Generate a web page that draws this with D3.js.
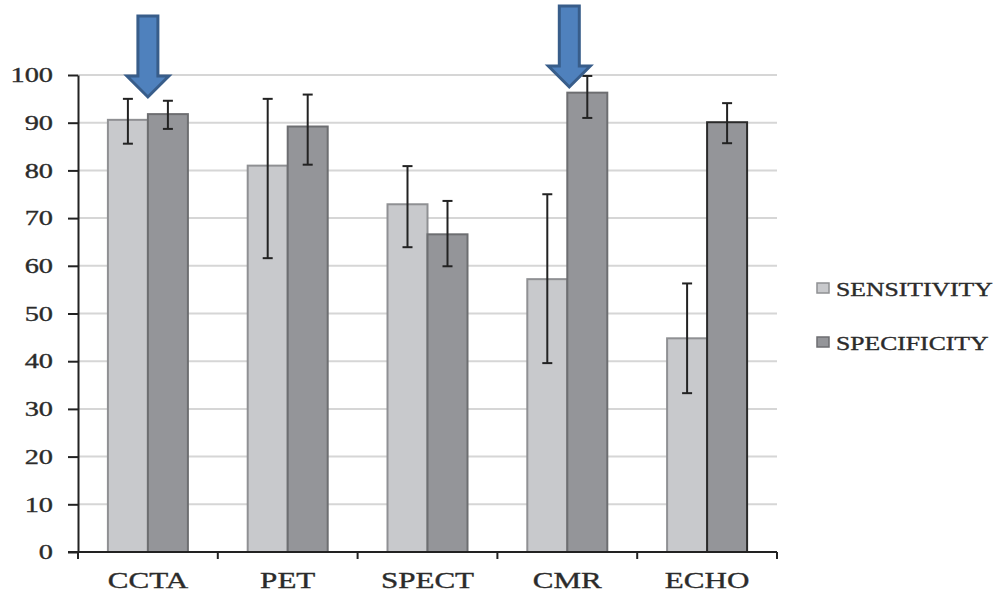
<!DOCTYPE html>
<html>
<head>
<meta charset="utf-8">
<script src="https://cdn.jsdelivr.net/npm/d3@7"></script>
<style>
body { margin: 0; background: #fff; }
text { font-family: "Liberation Serif", "DejaVu Serif", serif; fill: #2b2b2b; stroke: #2b2b2b; stroke-width: 0.35px; }
</style>
</head>
<body>
<svg width="997" height="594"></svg>
<script>
var categories = ["CCTA", "PET", "SPECT", "CMR", "ECHO"];
var seriesNames = ["SENSITIVITY", "SPECIFICITY"];
var sensitivity = [90.6, 81.0, 72.9, 57.2, 44.8];
var sensLow = [85.6, 61.6, 63.9, 39.6, 33.3];
var sensHigh = [95.0, 95.0, 80.9, 75.0, 56.3];
var specificity = [91.8, 89.2, 66.6, 96.3, 90.1];
var specLow = [88.7, 81.2, 59.9, 91.0, 85.7];
var specHigh = [94.6, 95.9, 73.6, 99.8, 94.1];
var yTicks = [0, 10, 20, 30, 40, 50, 60, 70, 80, 90, 100];
var arrowCats = ["CCTA", "CMR"];

var fills = ["#c8c9cc", "#949599"];
var strokes = ["#8f9093", "#6d6e71"];
var stretch = 1.35;

var svg = d3.select("svg");
var plotLeft = 78, plotRight = 777, plotTop = 75, plotBottom = 552;

var xScale = d3.scaleBand().domain(categories).range([plotLeft, plotRight]);
var inner = d3.scaleBand().domain(seriesNames).range([0, 80]);
var yScale = d3.scaleLinear().domain([0, 100]).range([plotBottom, plotTop]);

var data = categories.map(function(c, i) {
  return [
    {cat: c, s: 0, val: sensitivity[i], lo: sensLow[i], hi: sensHigh[i]},
    {cat: c, s: 1, val: specificity[i], lo: specLow[i], hi: specHigh[i]}
  ];
});

// gridlines
svg.append("g")
  .selectAll("line")
  .data(yTicks.slice(1))
  .enter()
  .append("line")
  .attr("x1", plotLeft)
  .attr("x2", plotRight)
  .attr("y1", d => yScale(d))
  .attr("y2", d => yScale(d))
  .style("stroke", "#d6d6d6")
  .style("stroke-width", 2);

// bars
var groups = svg.append("g")
  .selectAll("g")
  .data(data)
  .enter()
  .append("g")
  .attr("transform", (d) => "translate(" + (xScale(d[0].cat) + (xScale.bandwidth() - 80) / 2) + ",0)");

groups.selectAll("rect")
  .data(d => d)
  .enter()
  .append("rect")
  .attr("x", d => inner(seriesNames[d.s]))
  .attr("y", d => yScale(d.val))
  .attr("width", inner.bandwidth())
  .attr("height", d => yScale(0) - yScale(d.val))
  .style("fill", d => fills[d.s])
  .style("stroke", d => (d.cat == "ECHO" && d.s == 1) ? "#2a2a2a" : strokes[d.s])
  .style("stroke-width", 2);

// error bars
var eb = groups.selectAll(".err")
  .data(d => d)
  .enter()
  .append("g")
  .attr("class", "err")
  .attr("transform", d => "translate(" + (inner(seriesNames[d.s]) + inner.bandwidth() / 2) + ",0)");

eb.append("line")
  .attr("y1", d => yScale(d.lo))
  .attr("y2", d => yScale(d.hi));
eb.append("line")
  .attr("x1", -5).attr("x2", 5)
  .attr("y1", d => yScale(d.lo))
  .attr("y2", d => yScale(d.lo));
eb.append("line")
  .attr("x1", -5).attr("x2", 5)
  .attr("y1", d => yScale(d.hi))
  .attr("y2", d => yScale(d.hi));
eb.selectAll("line")
  .style("stroke", "#222")
  .style("stroke-width", 2);

// y axis
var yAxis = svg.append("g")
  .attr("transform", "translate(" + plotLeft + ",0)")
  .call(d3.axisLeft(yScale).tickValues(yTicks).tickSize(10).tickSizeOuter(0));
yAxis.select(".domain").style("stroke", "#222").style("stroke-width", 2);
yAxis.selectAll(".tick line").style("stroke", "#222").style("stroke-width", 2);
yAxis.selectAll(".tick text")
  .attr("x", -25)
  .style("font-size", "21px")
  .style("font-family", "Liberation Serif");

// x axis
var xAxis = svg.append("g")
  .attr("transform", "translate(0," + plotBottom + ")")
  .call(d3.axisBottom(xScale).tickSize(0).tickSizeOuter(0));
xAxis.select(".domain").remove();
xAxis.append("line")
  .attr("x1", plotLeft - 10).attr("x2", plotRight)
  .style("stroke", "#222").style("stroke-width", 2);
xAxis.selectAll(".bnd")
  .data(categories.concat(["end"]))
  .enter()
  .append("line")
  .attr("x1", (d, i) => i < categories.length ? xScale(d) : plotRight)
  .attr("x2", (d, i) => i < categories.length ? xScale(d) : plotRight)
  .attr("y1", 0).attr("y2", 7)
  .style("stroke", "#222").style("stroke-width", 2);
xAxis.selectAll(".tick text")
  .attr("y", 20)
  .attr("dy", "0.71em")
  .style("font-size", "23px")
  .style("font-family", "Liberation Serif");

// legend
var legend = svg.append("g")
  .selectAll("g")
  .data(seriesNames)
  .enter()
  .append("g")
  .attr("transform", (d, i) => "translate(817," + (283 + i * 54) + ")");
legend.append("rect")
  .attr("width", 12).attr("height", 10)
  .style("fill", (d, i) => fills[i])
  .style("stroke", (d, i) => strokes[i])
  .style("stroke-width", 1.5);
legend.append("text")
  .attr("x", 19)
  .attr("y", 13)
  .style("font-size", "19px")
  .text(d => d);

// arrows
svg.append("g")
  .selectAll("path")
  .data(arrowCats)
  .enter()
  .append("path")
  .attr("d", function(d) {
    var cx = xScale(d) + xScale.bandwidth() / 2 + (d == "CMR" ? 2 : 0);
    var tip = d == "CCTA" ? 97 : 87;
    var topY = tip - 81;
    return "M" + (cx - 10) + "," + topY + "H" + (cx + 10) + "V" + (tip - 21) +
      "H" + (cx + 21) + "L" + cx + "," + tip + "L" + (cx - 21) + "," + (tip - 21) +
      "H" + (cx - 10) + "Z";
  })
  .style("fill", "#4f81bd")
  .style("stroke", "#385d8a")
  .style("stroke-width", 3);

// the source picture is stretched sideways, so widen each text to match
svg.selectAll("text").each(function() {
  var w = this.getComputedTextLength();
  d3.select(this)
    .attr("textLength", w * stretch)
    .attr("lengthAdjust", "spacingAndGlyphs");
});
</script>
</body>
</html>
